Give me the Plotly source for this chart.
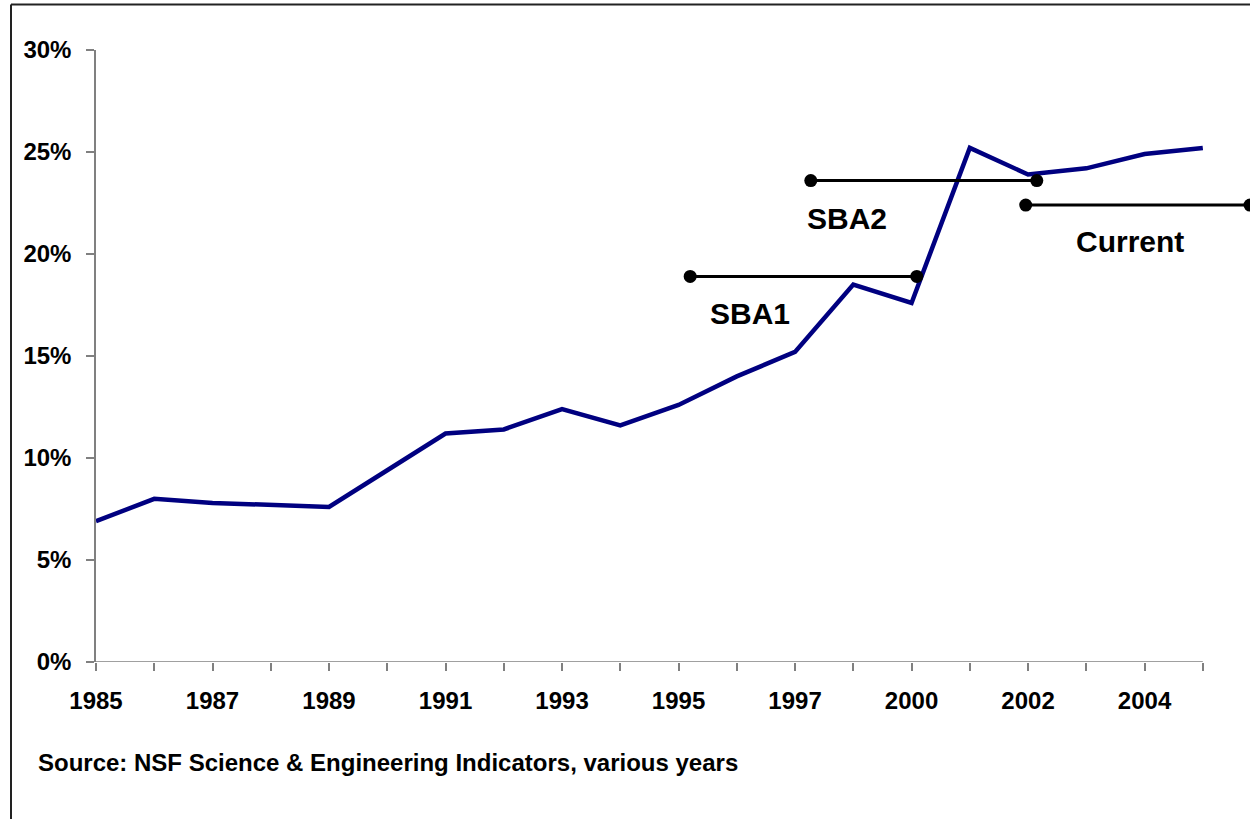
import plotly.graph_objects as go

# ---- data ----
years = ["1985", "1986", "1987", "1988", "1989", "1990", "1991", "1992", "1993", "1994",
         "1995", "1996", "1997", "1999", "2000", "2001", "2002", "2003", "2004", "2005"]
share_pct = [6.9, 8.0, 7.8, 7.7, 7.6, 9.4, 11.2, 11.4, 12.4, 11.6,
             12.6, 14.0, 15.2, 18.5, 17.6, 25.2, 23.9, 24.2, 24.9, 25.2]
tick_labels = [y if i % 2 == 0 else "" for i, y in enumerate(years)]
y_ticks = [0, 5, 10, 15, 20, 25, 30]

# period bars (start position, end position, level %) on the category index scale
period_names = ["SBA1", "SBA2", "Current"]
period_start = [10.2, 12.27, 15.96]
period_end = [14.09, 16.15, 19.81]
period_level = [18.9, 23.6, 22.4]
label_x = [11.23, 12.9, 17.75]
label_y = [17.1, 21.75, 20.6]

source_text = "Source: NSF Science & Engineering Indicators, various years"

FONT = "Liberation Sans, Arial, sans-serif"
xs = list(range(len(years)))

fig = go.Figure()
fig.add_trace(go.Scatter(x=xs, y=share_pct, mode="lines",
                         line=dict(color="#000080", width=4.5),
                         showlegend=False, hoverinfo="x+y"))

for name, s, e, lv in zip(period_names, period_start, period_end, period_level):
    fig.add_trace(go.Scatter(x=[s, e], y=[lv, lv], mode="lines+markers",
                             line=dict(color="black", width=3),
                             marker=dict(color="black", size=13),
                             cliponaxis=False, showlegend=False, name=name))

for name, lx, ly in zip(period_names, label_x, label_y):
    fig.add_annotation(x=lx, y=ly, text=name, showarrow=False,
                       font=dict(family=FONT, size=30, color="black", weight="bold"))

# x baseline for the category range
fig.add_shape(type="line", x0=xs[0], x1=xs[-1], y0=0, y1=0, xref="x", yref="y",
              line=dict(color="#808080", width=1.5), layer="above")

# outer frame (left + top edge)
L, R, T, B = 96, 0, 50, 157
W, H = 1250, 819
pw, ph = W - L - R, H - T - B
fx = (11 - L) / pw
fy = 1 + (T - 4.5) / ph
fig.add_shape(type="line", xref="paper", yref="paper", x0=fx, x1=fx, y0=fy, y1=-B / ph - 0.01,
              line=dict(color="#222", width=2))
fig.add_shape(type="line", xref="paper", yref="paper", x0=fx, x1=1.01, y0=fy, y1=fy,
              line=dict(color="#222", width=2))

fig.add_annotation(xref="paper", yref="paper", x=(36 - L) / pw, y=-(762 - 662) / ph,
                   xanchor="left", yanchor="middle", showarrow=False, text=source_text,
                   font=dict(family=FONT, size=24, color="black", weight="bold"))

fig.update_layout(
    width=W, height=H,
    margin=dict(l=L, r=R, t=T, b=B, pad=0),
    paper_bgcolor="white", plot_bgcolor="white",
    xaxis=dict(range=[0, 19.81], tickmode="array", tickvals=xs, ticktext=tick_labels,
               ticks="outside", ticklen=8, tickcolor="#808080", tickwidth=1.5,
               ticklabelstandoff=9,
               showline=False, showgrid=False, zeroline=False,
               tickfont=dict(family=FONT, size=24, color="black", weight="bold")),
    yaxis=dict(range=[0, 30], tickmode="array", tickvals=y_ticks,
               ticktext=[f"{v}%" for v in y_ticks],
               ticks="outside", ticklen=8, tickcolor="#808080", tickwidth=1.5,
               ticklabelstandoff=10,
               showline=True, linecolor="#808080", linewidth=1.5,
               showgrid=False, zeroline=False,
               tickfont=dict(family=FONT, size=24, color="black", weight="bold")),
)

fig.write_html("out.html", config={"displayModeBar": False},
               post_script="document.body.style.margin='0';document.body.style.overflow='hidden';")
